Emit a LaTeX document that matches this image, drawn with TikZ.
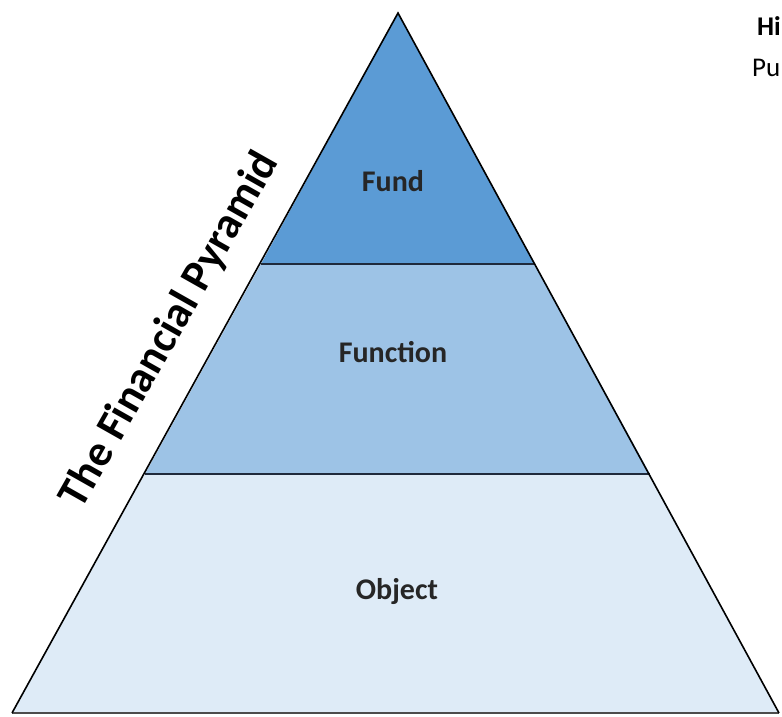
\documentclass[tikz,border=0pt]{standalone}
\usepackage{fontspec}
\setmainfont{Carlito}
\definecolor{fundblue}{HTML}{5B9BD5}
\definecolor{funcblue}{HTML}{9DC3E6}
\definecolor{objblue}{HTML}{DEEBF7}
\definecolor{bandline}{HTML}{1F2A3C}
\definecolor{inktext}{HTML}{262626}
\begin{document}
\begin{tikzpicture}[x=1pt,y=-1pt,
  edge/.style={draw=black,line width=1.6pt,line join=miter},
  bandsep/.style={draw=bandline,line width=1.4pt},
  baseline/.style={draw=black!70,line width=1.6pt},
  tier/.style={font=\fontsize{30}{36}\selectfont\bfseries,text=inktext},
  sidelabel/.style={font=\fontsize{44}{50}\selectfont\bfseries,text=black},
  cutlabel/.style={font=\fontsize{27}{32}\selectfont,text=black,anchor=base west,inner sep=0pt}]
\useasboundingbox (0,0) rectangle (782,717);
\fill[white] (0,0) rectangle (782,717);

% corners of the pyramid and the tier boundaries
\coordinate (apex) at (398,13);
\coordinate (bl) at (12,713);
\coordinate (br) at (779,713);
\coordinate (l1) at (261,264);
\coordinate (r1) at (535,264);
\coordinate (l2) at (145,474);
\coordinate (r2) at (650,474);

% tiers
\fill[fundblue] (apex) -- (r1) -- (l1) -- cycle;
\fill[funcblue] (l1) -- (r1) -- (r2) -- (l2) -- cycle;
\fill[objblue] (l2) -- (r2) -- (br) -- (bl) -- cycle;
\draw[bandsep] (l1) -- (r1);
\draw[bandsep] (l2) -- (r2);
\draw[baseline] (bl) -- (br);
\draw[edge] (bl) -- (apex) -- (br);

% tier names
\node[tier] (fund) at (393,181) {Fund};
\node[tier] (function) at (393,352) {Function};
\node[tier] (object) at (397,592) {Object};

% title along the left slope
\node[sidelabel,rotate=60.5] (title) at (170,330) {The Financial Pyramid};

% text running past the right edge
\node[cutlabel,font=\fontsize{27}{32}\selectfont\bfseries] (hi) at (757,36) {Hi};
\node[cutlabel] (pu) at (752,77) {Pu};
\end{tikzpicture}
\end{document}
